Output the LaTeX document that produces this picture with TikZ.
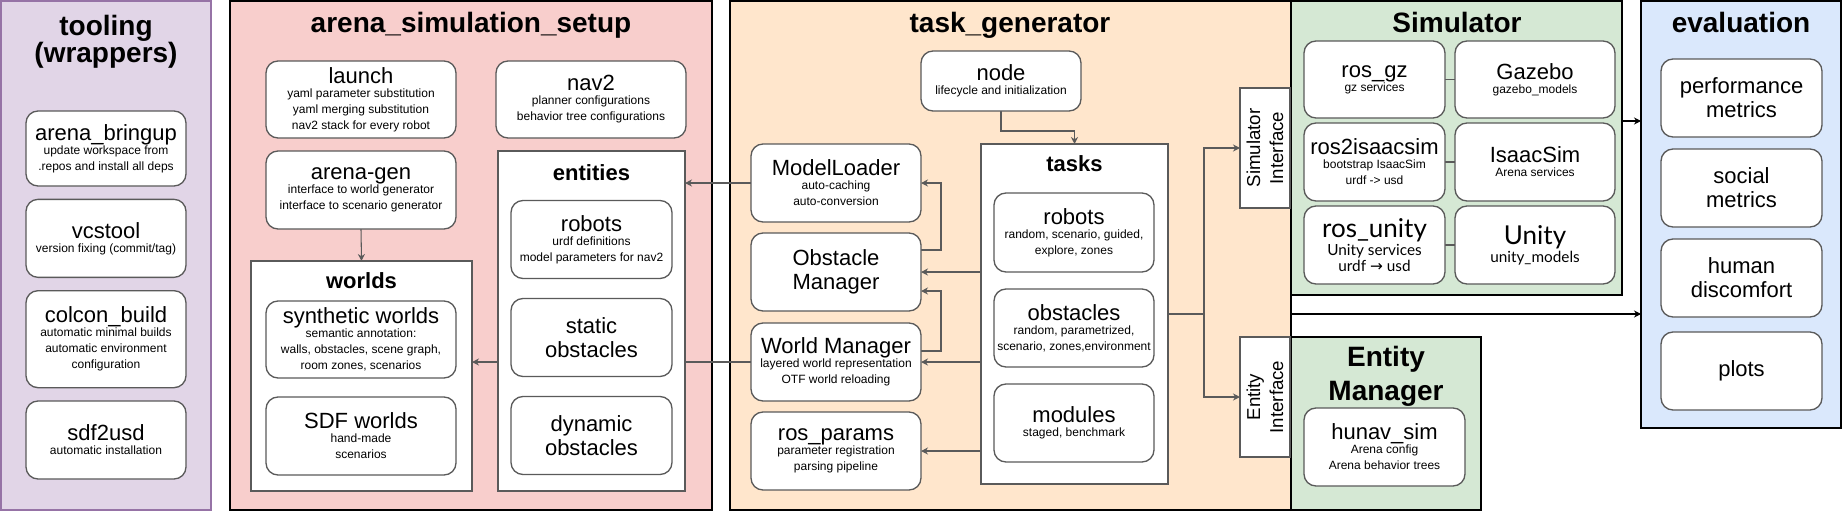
\documentclass[tikz,border=0pt]{standalone}
\usepackage{fontspec}
\setmainfont{Liberation Sans}
\newfontfamily\unityfont{Lato}
\newfontfamily\arrowglyph{DejaVu Sans}
\usetikzlibrary{positioning}
\usetikzlibrary{arrows.meta}

\pgfdeclarelayer{back}
\pgfdeclarelayer{edges}
\pgfsetlayers{back,edges,main}

\definecolor{toolfill}{HTML}{E1D5E7}
\definecolor{tooldraw}{HTML}{9673A6}
\definecolor{setupfill}{HTML}{F8CECC}
\definecolor{taskfill}{HTML}{FFE6CC}
\definecolor{simfill}{HTML}{D5E8D4}
\definecolor{evalfill}{HTML}{DAE8FC}
\definecolor{boxline}{HTML}{5A5A5A}

\newcommand{\pnlfont}{\fontsize{21}{20.25}\selectfont\bfseries}
\newcommand{\subfont}{\fontsize{16.5}{18}\selectfont\bfseries}
\newcommand{\bxfont}{\fontsize{16.5}{18}\selectfont}
\newcommand{\smfont}{\fontsize{9}{12}\selectfont\lineskiplimit=-20pt}
\newcommand{\unifont}{\unityfont\fontsize{11.5}{12.5}\selectfont\lineskiplimit=-20pt}
\newcommand{\unittl}{\fontsize{19.5}{20}\selectfont}

\tikzstyle{pnl}=[draw=black,line width=1.5pt,inner sep=0pt,outer sep=0pt,anchor=north west]
\tikzstyle{bx}=[draw=boxline,fill=white,line width=1pt,rounded corners=9pt,inner sep=0pt,outer sep=0pt,align=center,font=\smfont]
\tikzstyle{sq}=[draw=boxline,fill=white,line width=1pt,inner sep=0pt,outer sep=0pt]
\tikzstyle{ttl}=[align=center,font=\pnlfont]
\tikzstyle{subttl}=[anchor=base,font=\subfont]
\tikzstyle{iflbl}=[rotate=90,align=center,font=\fontsize{14}{17.25}\selectfont]
\tikzstyle{arr}=[draw=boxline,line width=0.8pt,-{Stealth[length=5.25pt,width=5.25pt]}]
\tikzstyle{arrk}=[draw=black,line width=0.8pt,-{Stealth[length=5.25pt,width=5.25pt]}]
\tikzstyle{ln}=[draw=boxline,line width=0.8pt]

\begin{document}
\begin{tikzpicture}[x=0.75pt,y=-0.75pt]
  \useasboundingbox (0,0) rectangle (1842,512);

  % panels
  \begin{pgfonlayer}{back}
    \node [pnl,draw=tooldraw,fill=toolfill,minimum width=157.5pt,minimum height=381.75pt] (tool) at (1,1) {};
    \node [pnl,fill=setupfill,minimum width=361.5pt,minimum height=381.75pt] (setup) at (230,1) {};
    \node [pnl,fill=taskfill,minimum width=420.75pt,minimum height=381.75pt] (tg) at (730,1) {};
    \node [pnl,fill=simfill,minimum width=248.25pt,minimum height=220.5pt] (sim) at (1291,1) {};
    \node [pnl,fill=simfill,minimum width=142.5pt,minimum height=129.75pt] (em) at (1291,337) {};
    \node [pnl,fill=evalfill,minimum width=150pt,minimum height=320.25pt] (ev) at (1641,1) {};
  \end{pgfonlayer}

  \node [ttl] (tooltitle) at (106,42) {tooling\\(wrappers)};
  \node [ttl,anchor=base] (setuptitle) at (471,32) {arena\_simulation\_setup};
  \node [ttl,anchor=base] (tgtitle) at (1010,32) {task\_generator};
  \node [ttl,anchor=base] (simtitle) at (1457,32) {Simulator};
  \node [ttl] (emtitle) at (1386,376) {Entity\\[5pt]Manager};
  \node [ttl,anchor=base] (evtitle) at (1741,32) {evaluation};

  % tooling
  \node [bx,minimum width=120pt,minimum height=56.25pt] (bringup) at (106,148.5) {{\bxfont arena\_bringup}\\[-1.5pt] update workspace from\\ .repos and install all deps};
  \node [bx,minimum width=120pt,minimum height=58.5pt,below=10pt of bringup] (vcs) {{\bxfont vcstool}\\[-1.5pt] version fixing (commit/tag)};
  \node [bx,minimum width=120pt,minimum height=72.75pt,below=10pt of vcs] (colcon) {{\bxfont colcon\_build}\\[-1.5pt] automatic minimal builds\\ automatic environment\\ configuration};
  \node [bx,minimum width=120pt,minimum height=58.5pt,below=10pt of colcon] (sdfusd) {{\bxfont sdf2usd}\\[-1.5pt] automatic installation};

  % arena_simulation_setup
  \node [bx,minimum width=142.5pt,minimum height=57.75pt] (launch) at (361,99.5) {{\bxfont launch}\\[-1.5pt] yaml parameter substitution\\ yaml merging substitution\\ nav2 stack for every robot};
  \node [bx,minimum width=142.5pt,minimum height=57.75pt] (nav2) at (591,99.5) {{\bxfont nav2}\\[-1.5pt] planner configurations\\ behavior tree configurations};
  \node [bx,minimum width=142.5pt,minimum height=58.5pt,below=9.75pt of launch] (arenagen) {{\bxfont arena-gen}\\[-1.5pt] interface to world generator\\ interface to scenario generator};
  \node [sq,minimum width=140.25pt,minimum height=255pt,anchor=north] (ents) at (591.5,151) {};
  \node [subttl] (entstitle) at (591.5,180) {entities};
  \node [bx,minimum width=120.75pt,minimum height=58.5pt] (erobots) at (591.5,239.5) {{\bxfont robots}\\[-1.5pt] urdf definitions\\ model parameters for nav2};
  \node [bx,font=\bxfont,minimum width=120.75pt,minimum height=58.5pt,below=15pt of erobots] (static) {static\\obstacles};
  \node [bx,font=\bxfont,minimum width=120.75pt,minimum height=58.5pt,below=15pt of static] (dynamic) {dynamic\\obstacles};
  \node [sq,minimum width=165.75pt,minimum height=172.5pt,anchor=north] (worlds) at (361.5,261) {};
  \node [subttl] (worldstitle) at (361.5,288) {worlds};
  \node [bx,minimum width=142.5pt,minimum height=57.75pt] (synth) at (361,339.5) {{\bxfont synthetic worlds}\\[-1.5pt] semantic annotation:\\ walls, obstacles, scene graph,\\ room zones, scenarios};
  \node [bx,minimum width=142.5pt,minimum height=58.5pt,below=14.25pt of synth] (sdfw) {{\bxfont SDF worlds}\\[-1.5pt] hand-made\\ scenarios};

  % task_generator
  \node [bx,minimum width=120pt,minimum height=45pt] (tgnode) at (1001,81) {{\bxfont node}\\[-1.5pt] lifecycle and initialization};
  \node [bx,minimum width=127.5pt,minimum height=58.5pt] (ml) at (836,183) {{\bxfont ModelLoader}\\[-1.5pt] auto-caching\\ auto-conversion};
  \node [bx,font=\bxfont,minimum width=127.5pt,minimum height=58.5pt,below=8.25pt of ml] (om) {Obstacle\\Manager};
  \node [bx,minimum width=127.5pt,minimum height=58.5pt,below=9pt of om] (wm) {{\bxfont World Manager}\\[-1.5pt] layered world representation\\ OTF world reloading};
  \node [bx,minimum width=127.5pt,minimum height=58.5pt,below=8.25pt of wm] (rp) {{\bxfont ros\_params}\\[-1.5pt] parameter registration\\ parsing pipeline};
  \node [sq,minimum width=140.25pt,minimum height=255pt,anchor=north] (tasks) at (1074.5,144) {};
  \node [subttl] (taskstitle) at (1074.5,171) {tasks};
  \node [bx,minimum width=120pt,minimum height=59.25pt] (trobots) at (1074,232.5) {{\bxfont robots}\\[-1.5pt] random, scenario, guided,\\ explore, zones};
  \node [bx,minimum width=120pt,minimum height=58.5pt,below=12.75pt of trobots] (tobst) {{\bxfont obstacles}\\[-1.5pt] random, parametrized,\\ scenario, zones,environment};
  \node [bx,minimum width=120pt,minimum height=58.5pt,below=12.75pt of tobst] (modules) {{\bxfont modules}\\[-1.5pt] staged, benchmark};
  \node [sq,minimum width=37.5pt,minimum height=90pt] (simif) at (1265,148) {};
  \node [iflbl] (simiftext) at (simif) {Simulator\\Interface};
  \node [sq,minimum width=37.5pt,minimum height=90pt] (entif) at (1265,397) {};
  \node [iflbl] (entiftext) at (entif) {Entity\\Interface};

  % Simulator
  \node [bx,minimum width=105.75pt,minimum height=57.75pt] (rosgz) at (1374.5,79.5) {{\bxfont ros\_gz}\\[-1.5pt] gz services};
  \node [bx,minimum width=105.75pt,minimum height=58.5pt,below=3.75pt of rosgz] (rosisaac) {{\bxfont ros2isaacsim}\\[-1.5pt] bootstrap IsaacSim\\ urdf -> usd};
  \node [bx,font=\unifont,minimum width=105.75pt,minimum height=58.5pt,below=3.75pt of rosisaac] (rosunity) {{\unittl ros\_unity}\\[1pt] Unity services\\ urdf {\arrowglyph →} usd};
  \node [bx,minimum width=120pt,minimum height=57.75pt,right=7.5pt of rosgz] (gazebo) {{\bxfont Gazebo}\\[-1.5pt] gazebo\_models};
  \node [bx,minimum width=120pt,minimum height=58.5pt,right=7.5pt of rosisaac] (isaac) {{\bxfont IsaacSim}\\[-1.5pt] Arena services};
  \node [bx,font=\unifont,minimum width=120pt,minimum height=58.5pt,right=7.5pt of rosunity] (unity) {{\unittl Unity}\\[1pt] unity\_models};

  % Entity Manager
  \node [bx,minimum width=120.75pt,minimum height=58.5pt] (hunav) at (1384.5,447) {{\bxfont hunav\_sim}\\[-1.5pt] Arena config\\ Arena behavior trees};

  % evaluation
  \node [bx,font=\bxfont,minimum width=120.75pt,minimum height=58.5pt] (perf) at (1741.5,98) {performance\\metrics};
  \node [bx,font=\bxfont,minimum width=120.75pt,minimum height=58.5pt,below=9pt of perf] (social) {social\\metrics};
  \node [bx,font=\bxfont,minimum width=120.75pt,minimum height=58.5pt,below=9pt of social] (human) {human\\discomfort};
  \node [bx,font=\bxfont,minimum width=120.75pt,minimum height=58.5pt,below=11.25pt of human] (plots) {plots};

  % connectors
  \begin{pgfonlayer}{edges}
    \draw [arr] (arenagen.south) -- (worlds.north);
    \draw [arr] (tgnode.south) -- ++(0,-15pt) -| (tasks.north);
    \draw [arr] ([yshift=16.5pt]om.east) -- ++(15pt,0) |- (ml.east);
    \draw [arr] (tasks.west |- om.east) -- (om.east);
    \draw [arr] ([yshift=8.25pt]wm.east) -- ++(15pt,0) |- ([yshift=-14.25pt]om.east);
    \draw [arr] (tasks.west |- wm.east) -- (wm.east);
    \draw [arr] (tasks.west |- rp.east) -- (rp.east);
    \draw [arr] (ml.west) -- (ml.west -| ents.east);
    \draw [arr] (wm.west) -- (wm.west -| worlds.east);
    \draw [ln] (tasks.east) -- ++(27pt,0) coordinate (split);
    \draw [arr] (split) |- (simif.west);
    \draw [arr] (split) |- (entif.west);
    \draw [arrk] ([yshift=20.25pt]sim.east) -- ([yshift=20.25pt]sim.east -| ev.west);
    \draw [arrk] (tg.east |- tasks.east) -- (ev.west |- tasks.east);
    \draw [ln] (rosgz) -- (gazebo);
    \draw [ln] (rosisaac) -- (isaac);
    \draw [ln] (rosunity) -- (unity);
  \end{pgfonlayer}
\end{tikzpicture}
\end{document}
